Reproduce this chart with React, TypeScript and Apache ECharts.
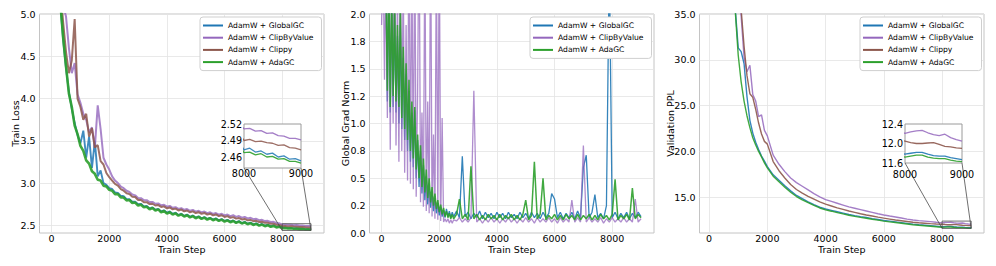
import React, { useEffect, useRef } from 'react';
import * as echarts from 'echarts';

const NAMES = ['AdamW + GlobalGC', 'AdamW + ClipByValue', 'AdamW + Clippy', 'AdamW + AdaGC'];
const COLORS = ['#1f77b4', '#9467bd', '#8c564b', '#2ca02c'];

// ---------- Panel 1: Train Loss (steps 0..9000 every 100) ----------
const lossSteps = Array.from({ length: 91 }, (_, i) => i * 100);
const lossGlobalGC = [
  10.8, 7.6, 6.05, 5.12, 4.7, 4.36, 4.08, 3.88, 3.71, 3.57,
  3.47, 3.62, 3.3, 3.55, 3.18, 3.5, 3.08, 3.15, 3.0, 2.98,
  2.94, 2.93, 2.89, 2.885, 2.85, 2.845, 2.81, 2.81, 2.78, 2.78,
  2.75, 2.755, 2.725, 2.73, 2.7, 2.712, 2.685, 2.695, 2.665, 2.678,
  2.65, 2.665, 2.636, 2.65, 2.622, 2.638, 2.612, 2.628, 2.602, 2.618,
  2.592, 2.607, 2.584, 2.598, 2.576, 2.59, 2.568, 2.583, 2.56, 2.575,
  2.552, 2.566, 2.544, 2.558, 2.536, 2.55, 2.528, 2.542, 2.52, 2.533,
  2.512, 2.525, 2.503, 2.517, 2.496, 2.51, 2.489, 2.502, 2.482, 2.49,
  2.473, 2.476, 2.469, 2.471, 2.465, 2.467, 2.46, 2.462, 2.456, 2.457,
  2.453,
];
const lossClipByValue = [
  11.2, 8.4, 6.8, 5.6, 5.1, 4.97, 4.6, 4.3, 4.42, 4.05,
  3.95, 3.82, 3.75, 3.6, 3.66, 3.42, 3.92, 3.64, 3.3, 3.22,
  3.16, 3.08, 3.03, 3.0, 2.96, 2.94, 2.91, 2.895, 2.865, 2.855,
  2.825, 2.822, 2.8, 2.798, 2.776, 2.778, 2.756, 2.76, 2.738, 2.743,
  2.722, 2.73, 2.708, 2.716, 2.695, 2.704, 2.684, 2.693, 2.673, 2.683,
  2.663, 2.673, 2.654, 2.664, 2.645, 2.655, 2.636, 2.646, 2.627, 2.637,
  2.618, 2.628, 2.61, 2.62, 2.601, 2.61, 2.592, 2.6, 2.583, 2.59,
  2.573, 2.578, 2.562, 2.566, 2.551, 2.554, 2.54, 2.542, 2.528, 2.524,
  2.511, 2.512, 2.507, 2.508, 2.503, 2.504, 2.499, 2.498, 2.494, 2.494,
  2.491,
];
const lossClippy = [
  10.9, 7.9, 6.3, 5.3, 4.9, 4.55, 4.3, 4.45, 4.94, 4.0,
  3.9, 3.75, 3.82, 3.55, 3.65, 3.42, 3.45, 3.26, 3.22, 3.12,
  3.07, 3.03, 2.99, 2.97, 2.93, 2.91, 2.88, 2.87, 2.84, 2.835,
  2.8, 2.8, 2.775, 2.775, 2.752, 2.756, 2.735, 2.74, 2.718, 2.725,
  2.702, 2.712, 2.69, 2.698, 2.677, 2.687, 2.666, 2.676, 2.655, 2.666,
  2.646, 2.656, 2.636, 2.647, 2.627, 2.638, 2.618, 2.629, 2.61, 2.62,
  2.6, 2.61, 2.59, 2.598, 2.58, 2.587, 2.57, 2.576, 2.56, 2.565,
  2.55, 2.554, 2.54, 2.543, 2.53, 2.532, 2.519, 2.52, 2.508, 2.506,
  2.49, 2.492, 2.488, 2.489, 2.486, 2.485, 2.481, 2.482, 2.477, 2.476,
  2.473,
];
const lossAdaGC = [
  10.9, 7.7, 6.1, 5.15, 4.72, 4.38, 4.06, 3.9, 3.68, 3.58,
  3.44, 3.38, 3.27, 3.23, 3.14, 3.11, 3.04, 3.03, 2.97, 2.96,
  2.92, 2.91, 2.87, 2.87, 2.83, 2.83, 2.795, 2.8, 2.765, 2.77,
  2.735, 2.745, 2.715, 2.72, 2.69, 2.705, 2.675, 2.69, 2.655, 2.67,
  2.64, 2.656, 2.628, 2.642, 2.615, 2.63, 2.605, 2.62, 2.595, 2.61,
  2.585, 2.6, 2.577, 2.592, 2.569, 2.584, 2.561, 2.576, 2.553, 2.568,
  2.545, 2.56, 2.537, 2.552, 2.53, 2.544, 2.522, 2.536, 2.513, 2.527,
  2.505, 2.518, 2.497, 2.51, 2.49, 2.502, 2.483, 2.494, 2.476, 2.484,
  2.468, 2.469, 2.464, 2.466, 2.46, 2.461, 2.456, 2.457, 2.452, 2.452,
  2.449,
];
const lossYTicks = [2.5, 3.0, 3.5, 4.0, 4.5, 5.0];
const lossInsetYTicks = [2.46, 2.49, 2.52];

// ---------- Panel 2: Global Grad Norm ----------
const gnSteps = [
  ...Array.from({ length: 51 }, (_, i) => i * 50),
  ...Array.from({ length: 65 }, (_, i) => 2600 + i * 100),
];
const gnGlobalGC = [
  3.6, 2.9, 2.5, 2.2, 1.2, 2.3, 1.1, 2.1, 1.15, 2.0,
  1.1, 1.8, 1.0, 1.9, 0.95, 1.6, 0.85, 1.45, 0.75, 1.3,
  0.65, 1.1, 0.6, 1.12, 0.5, 0.85, 0.42, 0.75, 0.36, 0.62,
  0.3, 0.52, 0.26, 0.45, 0.23, 0.38, 0.2, 0.32, 0.18, 0.27,
  0.16, 0.24, 0.15, 0.21, 0.14, 0.22, 0.15, 0.2, 0.14, 0.19,
  0.15,
  0.2, 0.14, 0.7, 0.15, 0.19, 0.13, 0.18, 0.14, 0.2, 0.13,
  0.19, 0.14, 0.18, 0.13, 0.19, 0.14, 0.18, 0.13, 0.19, 0.14,
  0.17, 0.13, 0.19, 0.14, 0.18, 0.13, 0.19, 0.14, 0.18, 0.13,
  0.19, 0.14, 0.18, 0.36, 0.31, 0.14, 0.19, 0.13, 0.18, 0.14,
  0.19, 0.13, 0.2, 0.14, 0.6, 0.71, 0.14, 0.19, 0.35, 0.14,
  0.18, 0.13, 0.25, 2.5, 0.14, 0.19, 0.13, 0.18, 0.14, 0.19,
  0.13, 0.18, 0.14, 0.19, 0.15,
];
const gnClipByValue = [
  1.9, 2.6, 1.4, 2.4, 1.05, 2.8, 0.76, 2.5, 1.0, 3.0,
  0.8, 2.2, 0.65, 2.9, 0.75, 2.4, 0.55, 1.9, 0.48, 3.0,
  0.45, 2.6, 0.4, 2.8, 0.33, 1.3, 3.0, 0.28, 1.1, 0.24,
  2.7, 0.2, 1.2, 0.18, 2.9, 0.15, 0.9, 0.13, 2.6, 0.12,
  2.8, 0.11, 1.05, 0.1, 0.13, 0.1, 0.13, 0.09, 0.12, 0.09,
  0.12,
  0.11, 0.14, 0.1, 0.13, 0.1, 0.14, 1.3, 0.1, 0.13, 0.09,
  0.13, 0.1, 0.14, 0.1, 0.13, 0.09, 0.13, 0.1, 0.14, 0.1,
  0.13, 0.09, 0.13, 0.1, 0.14, 0.1, 0.13, 0.09, 0.14, 0.1,
  0.13, 0.1, 0.14, 0.1, 0.13, 0.09, 0.14, 0.1, 0.13, 0.1,
  0.3, 0.1, 0.14, 0.1, 0.8, 0.1, 0.14, 0.1, 0.13, 0.1,
  0.14, 0.09, 0.13, 0.1, 0.14, 0.1, 0.13, 0.1, 0.14, 0.1,
  0.13, 0.1, 0.31, 0.1, 0.13,
];
const gnAdaGC = [
  3.5, 3.0, 2.6, 2.3, 1.3, 2.4, 1.15, 2.2, 1.25, 2.1,
  1.2, 1.9, 1.15, 2.05, 1.05, 1.7, 0.95, 1.55, 0.85, 1.4,
  0.75, 1.2, 0.68, 1.15, 0.58, 0.9, 0.5, 0.8, 0.42, 0.68,
  0.37, 0.58, 0.32, 0.5, 0.28, 0.42, 0.25, 0.36, 0.22, 0.3,
  0.19, 0.26, 0.17, 0.23, 0.15, 0.2, 0.14, 0.18, 0.13, 0.17,
  0.13,
  0.17, 0.31, 0.13, 0.17, 0.12, 0.61, 0.13, 0.17, 0.12, 0.16,
  0.12, 0.17, 0.13, 0.16, 0.12, 0.17, 0.12, 0.16, 0.13, 0.17,
  0.12, 0.16, 0.12, 0.17, 0.3, 0.12, 0.16, 0.65, 0.13, 0.17,
  0.5, 0.12, 0.16, 0.13, 0.17, 0.12, 0.16, 0.12, 0.17, 0.13,
  0.16, 0.12, 0.17, 0.12, 0.16, 0.13, 0.17, 0.12, 0.16, 0.12,
  0.17, 0.13, 0.16, 0.12, 0.17, 0.49, 0.12, 0.16, 0.13, 0.17,
  0.12, 0.41, 0.13, 0.17, 0.14,
];
const gnYLabels = ['0.0', '0.2', '0.5', '0.8', '1.0', '1.2', '1.5', '1.8', '2.0'];

// ---------- Panel 3: Validation PPL ----------
const pplSteps = [
  800, 900, 1000, 1100, 1200, 1300, 1400, 1500, 1600, 1700, 1800, 1900, 2000,
  2200, 2400, 2600, 2800, 3000, 3200, 3400, 3600, 3800, 4000,
  4200, 4400, 4600, 4800, 5000, 5200, 5400, 5600, 5800, 6000,
  6200, 6400, 6600, 6800, 7000, 7200, 7400, 7600, 7800, 8000,
  8100, 8200, 8300, 8400, 8500, 8600, 8700, 8800, 8900, 9000,
];
const pplGlobalGC = [
  40, 35.5, 31.3, 30.9, 29.6, 26.0, 23.4, 22.0, 21.0, 20.2, 19.5, 18.95, 18.35,
  17.45, 16.85, 16.25, 15.7, 15.2, 14.85, 14.5, 14.2, 13.92, 13.72,
  13.57, 13.42, 13.27, 13.12, 13.0, 12.89, 12.79, 12.67, 12.57, 12.47,
  12.39, 12.31, 12.23, 12.15, 12.07, 12.0, 11.95, 11.9, 11.84, 11.78,
  11.8, 11.82, 11.82, 11.78, 11.75, 11.74, 11.74, 11.71, 11.69, 11.67,
];
const pplClipByValue = [
  45, 41, 37.5, 34.8, 30.3, 28.7, 29.4, 26.2, 25.5, 23.8, 24.0, 22.3, 21.7,
  19.6, 18.6, 17.8, 17.1, 16.6, 16.2, 15.8, 15.4, 15.05, 14.75,
  14.55, 14.35, 14.15, 13.95, 13.8, 13.65, 13.5, 13.35, 13.2, 13.07,
  12.95, 12.85, 12.74, 12.62, 12.52, 12.45, 12.4, 12.34, 12.27, 12.21,
  12.24, 12.26, 12.27, 12.22, 12.18, 12.16, 12.19, 12.12, 12.08, 12.05,
];
const pplClippy = [
  44, 40, 37, 35.5, 31.5, 28.3, 26.3, 25.9, 24.6, 23.1, 21.9, 21.1, 20.8,
  18.9, 17.9, 17.1, 16.4, 15.85, 15.45, 15.1, 14.8, 14.5, 14.25,
  14.05, 13.85, 13.68, 13.5, 13.35, 13.2, 13.07, 12.95, 12.83, 12.72,
  12.62, 12.52, 12.44, 12.36, 12.28, 12.22, 12.17, 12.12, 12.08, 12.05,
  12.02, 12.0, 12.0, 12.01, 12.02, 11.98, 11.94, 11.93, 11.91, 11.9,
];
const pplAdaGC = [
  40, 35.2, 30.5, 27.6, 25.5, 23.9, 22.6, 21.5, 20.7, 20.0, 19.4, 18.75, 18.2,
  17.3, 16.7, 16.1, 15.55, 15.08, 14.72, 14.42, 14.12, 13.83, 13.62,
  13.48, 13.33, 13.18, 13.04, 12.92, 12.81, 12.71, 12.6, 12.5, 12.4,
  12.32, 12.24, 12.16, 12.08, 12.0, 11.94, 11.89, 11.84, 11.78, 11.72,
  11.74, 11.76, 11.76, 11.72, 11.7, 11.69, 11.69, 11.66, 11.64, 11.63,
];
const pplYTicks = [15, 20, 25, 30, 35];
const pplInsetYTicks = [11.6, 12.0, 12.4];
const stepTicks = [0, 2000, 4000, 6000, 8000];
const insetXTicks = [8000, 9000];

const FONT = 'DejaVu Sans';
const pairs = (steps: number[], vals: number[]) => steps.map((s, i) => [s, vals[i]]);
const plain = (v: number) => String(v);

const mainGrid = (left: number) => ({
  left, top: 14, width: 284.5, height: 219,
  show: true, borderColor: '#c4c4c4', borderWidth: 1, backgroundColor: 'transparent',
  outerBoundsMode: 'none', containLabel: false,
});

const xMain = (gridIndex: number, min: number, max: number) => ({
  type: 'value', gridIndex, min, max,
  name: 'Train Step', nameLocation: 'middle', nameGap: 11, nameMoveOverlap: false,
  nameTextStyle: { fontFamily: FONT, fontSize: 9.5, color: '#000' },
  axisLine: { show: false }, axisTick: { show: false, customValues: stepTicks },
  axisLabel: { customValues: stepTicks, formatter: plain, fontFamily: FONT, fontSize: 9.5, color: '#000', margin: 0 },
  splitLine: { show: true, lineStyle: { color: '#e3e3e3', width: 0.8 } },
});

const yMain = (gridIndex: number, name: string, min: number, max: number, ticks: number[], gap: number) => ({
  type: 'value', gridIndex, min, max,
  name, nameLocation: 'middle', nameGap: gap, nameMoveOverlap: false,
  nameTextStyle: { fontFamily: FONT, fontSize: 9.5, color: '#000' },
  axisLine: { show: false }, axisTick: { show: false, customValues: ticks },
  axisLabel: { customValues: ticks, formatter: (v: number) => v.toFixed(1), fontFamily: FONT, fontSize: 9.5, color: '#000', margin: 4 },
  splitLine: { show: true, lineStyle: { color: '#e3e3e3', width: 0.8 } },
});

const insetX = (gridIndex: number, margin: number) => ({
  type: 'value', gridIndex, min: 8000, max: 9000, z: 4,
  axisLine: { show: false }, axisTick: { show: false, customValues: insetXTicks },
  axisLabel: { customValues: insetXTicks, formatter: plain, fontFamily: FONT, fontSize: 9.6, color: '#000', margin },
  splitLine: { show: false },
});

const insetY = (gridIndex: number, min: number, max: number, ticks: number[], digits: number) => ({
  type: 'value', gridIndex, min, max, z: 4,
  axisLine: { show: false }, axisTick: { show: false, customValues: ticks },
  axisLabel: { customValues: ticks, formatter: (v: number) => v.toFixed(digits), fontFamily: FONT, fontSize: 9.6, color: '#000', margin: 2 },
  splitLine: { show: false },
});

const lineS = (name: string, ci: number, steps: number[], vals: number[], axis: number, width: number, opacity: number, z = 2) => ({
  type: 'line', name, xAxisIndex: axis, yAxisIndex: axis,
  data: pairs(steps, vals), showSymbol: false, symbol: 'none', clip: true, z,
  color: COLORS[ci],
  itemStyle: { color: COLORS[ci] },
  lineStyle: { color: COLORS[ci], width, opacity },
  emphasis: { disabled: true }, silent: true,
});

const legendCfg = (left: number, data: string[]) => ({
  left, top: 17, orient: 'vertical', data, icon: 'rect',
  itemWidth: 20, itemHeight: 2, itemGap: 3.2,
  padding: [4, 8, 4, 3],
  backgroundColor: '#fff', borderColor: '#cfcfcf', borderWidth: 1, borderRadius: 3,
  textStyle: { fontFamily: FONT, fontSize: 7.6, color: '#000', lineHeight: 9 },
  selectedMode: false, z: 6,
});

export default function App() {
  const ref = useRef<HTMLDivElement>(null);
  useEffect(() => {
    if (!ref.current) return;
    const chart = echarts.init(ref.current, null, { renderer: 'svg' });
    const option: any = {
      animation: false,
      backgroundColor: '#fff',
      textStyle: { fontFamily: FONT },
      grid: [
        mainGrid(39.5),
        mainGrid(369.5),
        mainGrid(699.5),
        { left: 244, top: 124, width: 57, height: 44, show: true, borderColor: '#9a9a9a', borderWidth: 1, backgroundColor: '#fff', z: 3, outerBoundsMode: 'none' },
        { left: 905, top: 124, width: 57, height: 39, show: true, borderColor: '#9a9a9a', borderWidth: 1, backgroundColor: '#fff', z: 3, outerBoundsMode: 'none' },
      ],
      xAxis: [
        xMain(0, -420, 9450),
        xMain(1, -420, 9450),
        xMain(2, -330, 9440),
        insetX(3, 0),
        insetX(4, 6),
      ],
      yAxis: [
        yMain(0, 'Train Loss', 2.41, 5.0, lossYTicks, 19),
        {
          type: 'value', gridIndex: 1, min: 0, max: 2, interval: 0.25,
          name: 'Global Grad Norm', nameLocation: 'middle', nameGap: 19, nameMoveOverlap: false,
          nameTextStyle: { fontFamily: FONT, fontSize: 9.5, color: '#000' },
          axisLine: { show: false }, axisTick: { show: false },
          axisLabel: { formatter: (v: number) => gnYLabels[Math.round(v / 0.25)], fontFamily: FONT, fontSize: 9.5, color: '#000', margin: 4 },
          splitLine: { show: true, lineStyle: { color: '#e3e3e3', width: 0.8 } },
        },
        yMain(2, 'Validation PPL', 11.1, 35, pplYTicks, 24),
        insetY(3, 2.44, 2.52, lossInsetYTicks, 2),
        insetY(4, 11.6, 12.4, pplInsetYTicks, 1),
      ],
      legend: [
        legendCfg(200, NAMES),
        legendCfg(530, [NAMES[0], NAMES[1], NAMES[3]]),
        legendCfg(860, NAMES),
      ],
      series: [
        lineS(NAMES[0], 0, lossSteps, lossGlobalGC, 0, 1.9, 0.85),
        lineS(NAMES[1], 1, lossSteps, lossClipByValue, 0, 2.0, 0.8),
        lineS(NAMES[2], 2, lossSteps, lossClippy, 0, 2.0, 0.85),
        lineS(NAMES[3], 3, lossSteps, lossAdaGC, 0, 2.6, 0.9),
        lineS(NAMES[0], 0, lossSteps, lossGlobalGC, 3, 1.3, 0.85, 5),
        lineS(NAMES[1], 1, lossSteps, lossClipByValue, 3, 1.3, 0.85, 5),
        lineS(NAMES[2], 2, lossSteps, lossClippy, 3, 1.3, 0.85, 5),
        lineS(NAMES[3], 3, lossSteps, lossAdaGC, 3, 1.3, 0.9, 5),

        lineS(NAMES[0], 0, gnSteps, gnGlobalGC, 1, 1.3, 0.9),
        lineS(NAMES[1], 1, gnSteps, gnClipByValue, 1, 1.3, 0.75),
        lineS(NAMES[3], 3, gnSteps, gnAdaGC, 1, 1.5, 0.9),

        lineS(NAMES[0], 0, pplSteps, pplGlobalGC, 2, 1.4, 0.9),
        lineS(NAMES[1], 1, pplSteps, pplClipByValue, 2, 1.4, 0.85),
        lineS(NAMES[2], 2, pplSteps, pplClippy, 2, 1.4, 0.9),
        lineS(NAMES[3], 3, pplSteps, pplAdaGC, 2, 1.4, 0.9),
        lineS(NAMES[0], 0, pplSteps, pplGlobalGC, 4, 1.3, 0.9, 5),
        lineS(NAMES[1], 1, pplSteps, pplClipByValue, 4, 1.3, 0.85, 5),
        lineS(NAMES[2], 2, pplSteps, pplClippy, 4, 1.3, 0.9, 5),
        lineS(NAMES[3], 3, pplSteps, pplAdaGC, 4, 1.3, 0.9, 5),
      ],
    };
    chart.setOption(option);

    const px = (g: number, p: number[]) => chart.convertToPixel({ gridIndex: g } as any, p) as number[];
    const zoomMark = (mainG: number, insetG: number, x0: number, x1: number, y0: number, y1: number) => {
      const a = px(mainG, [x0, y1]);
      const b = px(mainG, [x1, y0]);
      const i0 = px(insetG, [x0, y0]);
      const i1 = px(insetG, [x1, y0]);
      const stroke = { stroke: '#4a4a4a', lineWidth: 0.8, fill: 'none' };
      return [
        { type: 'rect', z: 3, silent: true, shape: { x: a[0], y: a[1], width: b[0] - a[0], height: b[1] - a[1] }, style: stroke },
        { type: 'line', z: 3, silent: true, shape: { x1: i0[0], y1: i0[1], x2: a[0], y2: b[1] }, style: stroke },
        { type: 'line', z: 3, silent: true, shape: { x1: i1[0], y1: i1[1], x2: b[0], y2: b[1] }, style: stroke },
      ];
    };
    chart.setOption({
      graphic: [
        ...zoomMark(0, 3, 8000, 9000, 2.44, 2.52),
        ...zoomMark(2, 4, 8000, 9000, 11.6, 12.4),
      ],
    });
    return () => chart.dispose();
  }, []);
  return <div ref={ref} style={{ position: 'absolute', left: 0, top: 0, width: 996, height: 266 }} />;
}
